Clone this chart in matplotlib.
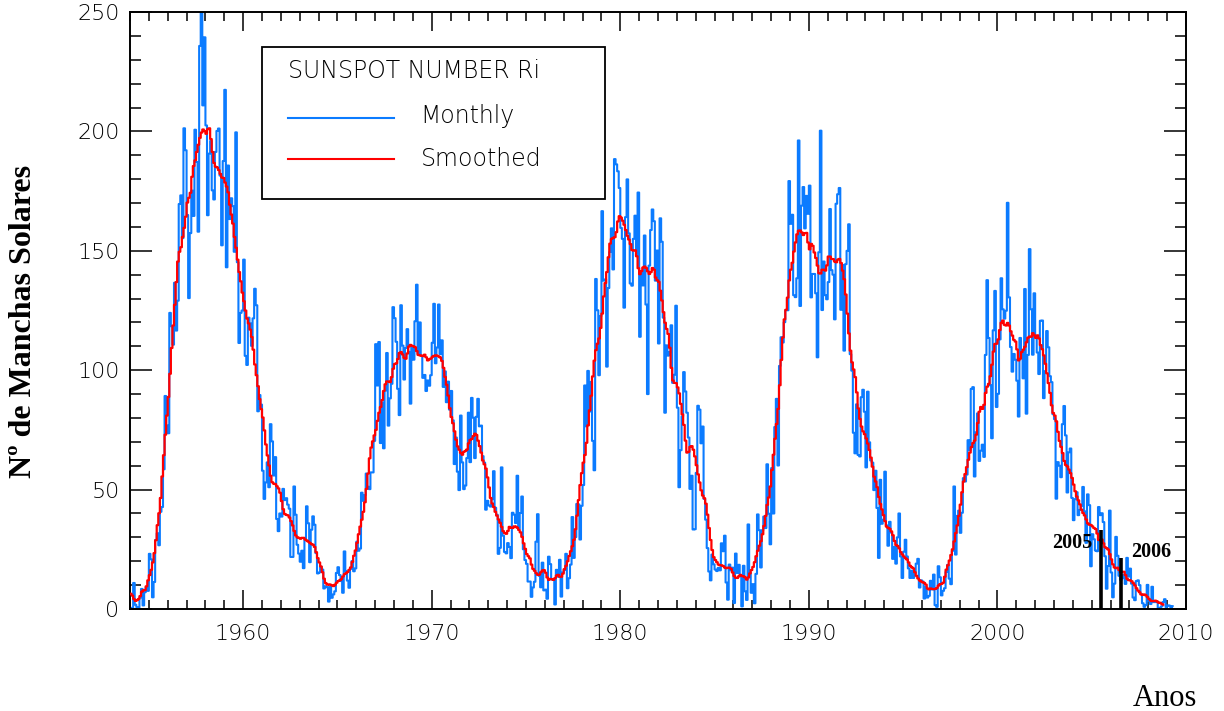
import numpy as np
import matplotlib
matplotlib.use("Agg")
import matplotlib.pyplot as plt
from matplotlib.patches import Rectangle
from matplotlib.ticker import FixedLocator, MultipleLocator

# Monthly mean sunspot number Ri, one row per year, starting January 1954
first_year = 1954
monthly_ri = [
    0.2, 0.5, 10.9, 1.8, 0.8, 0.2, 4.8, 8.4, 1.5, 7.0, 9.2, 7.6,                       # 1954
    23.1, 20.8, 4.9, 11.3, 28.9, 31.7, 26.7, 40.7, 42.7, 58.5, 89.2, 76.9,             # 1955
    73.6, 124.0, 118.4, 110.7, 136.6, 116.6, 129.1, 169.6, 173.2, 155.3, 201.3, 192.1, # 1956
    165.0, 130.2, 157.4, 175.2, 164.6, 200.7, 187.2, 158.0, 235.8, 253.8, 210.9, 239.4,# 1957
    202.5, 164.9, 190.7, 196.0, 175.3, 171.5, 191.4, 200.2, 201.2, 181.5, 152.3, 187.6,# 1958
    217.4, 143.1, 185.7, 163.3, 172.0, 168.7, 149.6, 199.6, 145.2, 111.4, 124.0, 125.0,# 1959
    146.3, 106.0, 102.2, 122.0, 119.6, 110.2, 121.7, 134.1, 127.2, 82.8, 89.6, 85.6,   # 1960
    57.9, 46.1, 53.0, 61.4, 51.0, 77.4, 70.2, 55.9, 63.6, 37.7, 32.6, 40.0,            # 1961
    38.7, 50.3, 45.6, 46.4, 43.7, 42.0, 21.8, 21.8, 51.3, 39.5, 26.9, 23.2,            # 1962
    19.8, 24.4, 17.1, 29.3, 43.0, 35.9, 19.6, 33.2, 38.8, 35.3, 23.4, 14.9,            # 1963
    15.3, 17.7, 16.5, 8.6, 9.5, 9.1, 3.1, 9.3, 4.7, 6.1, 7.4, 15.1,                    # 1964
    17.5, 14.2, 11.7, 6.8, 24.1, 15.9, 11.9, 8.9, 16.8, 20.1, 15.8, 17.0,              # 1965
    28.2, 24.4, 25.3, 48.7, 45.3, 47.7, 56.7, 51.2, 50.2, 57.2, 57.2, 70.4,            # 1966
    110.9, 93.6, 111.8, 69.5, 86.5, 67.3, 91.5, 107.2, 76.8, 88.2, 94.3, 126.4,        # 1967
    121.8, 111.9, 92.2, 81.2, 127.2, 110.3, 96.1, 109.3, 117.2, 107.7, 86.0, 109.8,    # 1968
    104.4, 120.5, 135.8, 106.8, 120.0, 106.0, 96.8, 98.0, 91.3, 95.7, 93.5, 97.9,      # 1969
    111.5, 127.8, 102.9, 109.5, 127.5, 106.8, 112.5, 93.0, 99.5, 86.6, 95.2, 83.5,     # 1970
    91.3, 79.0, 60.7, 71.8, 57.5, 49.8, 81.0, 61.4, 50.2, 51.7, 63.2, 82.2,            # 1971
    61.5, 88.4, 80.1, 63.2, 80.5, 88.0, 76.5, 76.8, 64.0, 61.3, 41.6, 45.3,            # 1972
    43.4, 42.9, 46.0, 57.7, 42.4, 39.5, 23.1, 25.6, 59.3, 30.7, 23.9, 23.3,            # 1973
    27.6, 26.0, 21.3, 40.3, 39.5, 36.0, 55.8, 33.6, 40.2, 47.1, 25.0, 20.5,            # 1974
    18.9, 11.5, 11.5, 5.1, 9.0, 11.4, 28.2, 39.7, 13.9, 9.1, 19.4, 7.8,                # 1975
    8.1, 4.3, 21.9, 18.8, 12.4, 12.2, 1.9, 16.4, 13.5, 20.6, 5.2, 15.3,                # 1976
    16.4, 23.1, 8.7, 12.9, 18.6, 38.5, 21.4, 30.1, 44.0, 43.8, 29.1, 43.2,             # 1977
    51.9, 93.6, 76.5, 99.7, 82.7, 95.1, 70.4, 58.1, 138.2, 125.1, 97.9, 122.7,         # 1978
    166.6, 137.5, 138.0, 101.5, 134.4, 149.5, 159.4, 142.2, 188.4, 186.2, 183.3, 176.3,# 1979
    159.6, 155.0, 126.2, 164.1, 179.9, 157.3, 136.3, 135.4, 155.0, 164.7, 147.9, 174.4,# 1980
    114.0, 141.3, 135.5, 156.4, 127.5, 90.0, 143.8, 158.7, 167.3, 162.4, 137.5, 150.1, # 1981
    111.2, 163.6, 153.8, 122.0, 82.2, 110.4, 106.1, 107.6, 118.8, 94.7, 98.1, 127.0,   # 1982
    84.3, 51.0, 66.5, 80.7, 99.2, 91.1, 82.2, 71.8, 50.3, 55.8, 33.3, 33.4,            # 1983
    57.0, 85.1, 83.5, 69.4, 76.4, 46.1, 37.4, 25.5, 15.7, 12.0, 22.8, 18.7,            # 1984
    16.5, 15.9, 17.2, 16.2, 27.5, 24.2, 30.7, 11.1, 3.9, 18.6, 16.2, 17.3,             # 1985
    2.5, 23.2, 15.1, 18.5, 13.7, 1.1, 18.1, 7.4, 3.8, 35.4, 15.2, 6.8,                 # 1986
    10.4, 2.4, 14.7, 39.6, 33.0, 17.4, 33.0, 38.7, 33.9, 60.6, 39.9, 27.1,             # 1987
    59.0, 40.0, 76.2, 88.0, 60.1, 101.8, 113.8, 111.6, 120.1, 125.1, 125.1, 179.2,     # 1988
    161.3, 165.1, 131.4, 130.6, 138.5, 196.2, 126.9, 168.9, 176.7, 159.4, 173.0, 165.5,# 1989
    177.3, 130.5, 140.3, 140.3, 132.2, 105.4, 149.4, 200.3, 125.2, 145.5, 131.4, 129.7,# 1990
    136.9, 167.5, 141.9, 140.0, 121.3, 169.7, 173.7, 176.3, 125.3, 144.1, 108.2, 144.4,# 1991
    150.0, 161.1, 106.7, 99.8, 73.8, 65.2, 85.7, 64.5, 63.9, 88.7, 91.8, 82.6,         # 1992
    59.3, 91.0, 69.8, 62.2, 61.3, 49.8, 57.9, 42.3, 21.4, 54.1, 35.7, 37.4,            # 1993
    57.5, 35.0, 26.5, 36.5, 32.0, 21.0, 26.0, 19.0, 30.0, 40.0, 22.0, 13.0,            # 1994
    24.0, 29.0, 22.0, 17.0, 13.0, 16.0, 13.0, 15.0, 19.0, 21.0, 9.0, 12.0,             # 1995
    11.5, 4.4, 9.2, 4.8, 5.5, 11.8, 8.2, 14.4, 1.6, 0.9, 17.9, 13.3,                   # 1996
    5.7, 7.6, 8.7, 15.5, 18.5, 12.7, 10.4, 24.4, 51.3, 22.8, 39.0, 41.2,               # 1997
    31.9, 40.3, 54.8, 53.4, 56.3, 70.7, 66.6, 92.2, 92.9, 55.5, 74.0, 81.9,            # 1998
    62.0, 66.3, 68.8, 63.7, 106.4, 137.7, 113.5, 93.7, 71.5, 116.7, 133.2, 84.6,       # 1999
    90.1, 112.9, 138.5, 125.5, 121.6, 124.9, 170.1, 130.5, 109.7, 99.4, 106.8, 104.4,  # 2000
    95.6, 80.6, 113.5, 107.7, 96.6, 134.0, 81.8, 106.4, 150.7, 125.5, 106.5, 132.2,    # 2001
    114.1, 107.4, 98.4, 120.7, 120.8, 88.3, 99.6, 116.4, 109.6, 97.5, 95.0, 81.6,      # 2002
    79.5, 46.2, 61.5, 60.0, 55.2, 77.4, 85.0, 72.7, 48.8, 65.6, 67.2, 46.5,            # 2003
    37.2, 46.0, 48.9, 39.3, 41.5, 43.2, 51.1, 40.9, 27.7, 48.0, 43.5, 17.9,            # 2004
    31.3, 29.2, 24.5, 24.2, 42.7, 39.3, 40.1, 36.4, 22.1, 8.5, 18.0, 41.2,             # 2005
    15.3, 4.9, 10.6, 30.2, 22.3, 13.9, 12.2, 12.9, 14.4, 10.5, 21.4, 13.6,             # 2006
    16.9, 10.6, 4.8, 3.7, 11.7, 12.0, 10.0, 6.2, 2.4, 0.9, 1.7, 10.1,                  # 2007
    3.4, 2.1, 9.3, 2.9, 2.9, 3.1, 0.5, 0.5, 1.1, 2.9, 4.1, 0.8,                        # 2008
    1.5, 1.4, 0.7, 1.2,                                                                # 2009
]

# 13-month smoothed sunspot number, starting January 1954
smoothed_ri = [
    6.4, 5.6, 4.2, 3.4, 3.7, 4.2, 5.4, 7.2, 7.8, 7.9, 9.5, 12.0,                       # 1954
    14.2, 16.4, 19.5, 23.4, 28.8, 35.1, 40.1, 46.5, 55.5, 64.4, 73.0, 81.0,            # 1955
    88.8, 98.5, 109.3, 118.7, 127.4, 136.9, 145.5, 149.6, 151.5, 155.8, 159.6, 164.3,  # 1956
    170.2, 172.2, 174.3, 181.0, 185.5, 187.9, 191.4, 194.4, 197.3, 199.5, 200.8, 200.1,# 1957
    199.0, 200.9, 201.3, 196.8, 191.4, 186.8, 185.2, 184.9, 183.8, 182.2, 180.7, 180.5,# 1958
    178.6, 176.9, 174.5, 169.3, 165.2, 161.4, 155.8, 151.3, 146.3, 141.1, 137.2, 132.5,# 1959
    128.9, 125.0, 121.6, 119.6, 117.0, 113.9, 108.6, 102.4, 97.9, 93.3, 87.9, 83.7,    # 1960
    80.2, 74.8, 68.9, 64.3, 60.1, 55.8, 53.1, 52.5, 52.3, 51.4, 50.5, 48.7,            # 1961
    45.2, 41.8, 39.8, 39.4, 39.2, 38.3, 36.8, 35.0, 32.7, 30.8, 30.0, 29.8,            # 1962
    29.4, 29.8, 29.8, 29.1, 28.7, 28.2, 27.7, 27.2, 26.9, 26.0, 23.8, 21.3,            # 1963
    19.5, 17.8, 15.4, 12.7, 10.9, 10.2, 10.3, 10.2, 9.9, 9.6, 10.2, 11.0,              # 1964
    11.7, 12.0, 12.5, 13.6, 14.6, 15.0, 15.5, 16.4, 17.4, 19.7, 22.3, 24.5,            # 1965
    27.7, 31.3, 34.5, 37.4, 40.7, 44.7, 50.3, 56.7, 63.1, 67.6, 70.2, 72.7,            # 1966
    75.0, 78.8, 82.2, 84.6, 87.5, 91.3, 94.1, 95.3, 95.3, 95.0, 97.1, 100.6,           # 1967
    102.6, 102.9, 104.7, 107.2, 107.6, 106.6, 105.2, 104.8, 107.0, 109.9, 110.6, 110.2,# 1968
    110.0, 109.6, 108.0, 106.4, 106.2, 106.1, 105.9, 106.5, 105.4, 104.1, 104.6, 104.9,# 1969
    105.6, 106.0, 106.2, 106.1, 105.8, 105.3, 103.9, 101.0, 97.2, 93.9, 89.4, 84.1,    # 1970
    80.4, 77.8, 74.4, 70.9, 68.1, 66.7, 65.4, 64.6, 65.8, 66.2, 66.8, 69.4,            # 1971
    70.8, 71.2, 72.4, 73.4, 72.9, 70.5, 68.2, 65.5, 62.2, 60.6, 58.8, 55.1,            # 1972
    50.9, 46.5, 44.2, 42.7, 40.7, 39.1, 37.5, 36.1, 34.4, 32.6, 31.8, 31.5,            # 1973
    32.7, 34.4, 34.0, 33.9, 34.6, 34.5, 34.0, 33.1, 32.1, 30.2, 27.5, 25.2,            # 1974
    23.0, 22.1, 21.2, 18.6, 16.8, 16.0, 15.0, 14.3, 14.4, 15.4, 16.1, 16.3,            # 1975
    15.2, 13.2, 12.2, 12.6, 12.5, 12.2, 12.9, 14.0, 14.3, 13.5, 13.5, 14.8,            # 1976
    16.7, 18.1, 20.0, 22.2, 24.2, 26.3, 29.0, 33.4, 39.1, 45.6, 51.9, 56.9,            # 1977
    61.3, 64.5, 69.6, 76.9, 83.2, 89.3, 97.4, 104.0, 108.4, 111.1, 113.3, 117.7,       # 1978
    123.7, 130.9, 136.5, 141.1, 147.3, 153.0, 155.0, 155.4, 155.7, 157.8, 162.3, 164.5,# 1979
    163.9, 162.6, 160.9, 158.7, 156.3, 154.7, 152.8, 150.3, 150.1, 150.2, 147.7, 142.7,# 1980
    140.2, 141.5, 143.0, 143.4, 142.8, 141.4, 140.3, 141.1, 142.8, 142.1, 138.8, 137.7,# 1981
    137.0, 133.3, 129.2, 124.3, 119.9, 117.3, 115.2, 109.4, 101.0, 95.7, 94.7, 94.6,   # 1982
    92.8, 90.3, 85.9, 81.5, 77.1, 70.5, 65.5, 65.8, 67.9, 68.2, 66.7, 63.9,            # 1983
    60.2, 56.4, 53.0, 49.7, 47.5, 46.4, 44.1, 39.5, 33.9, 28.9, 24.7, 21.7,            # 1984
    20.5, 19.6, 18.6, 18.3, 18.3, 18.0, 17.4, 17.1, 17.3, 17.3, 16.8, 15.3,            # 1985
    13.8, 13.1, 13.0, 13.7, 14.3, 13.8, 13.7, 13.2, 12.3, 13.2, 14.9, 16.3,            # 1986
    17.6, 19.6, 22.1, 24.4, 26.5, 28.4, 31.3, 34.8, 39.0, 43.6, 46.7, 51.3,            # 1987
    58.2, 64.6, 71.3, 77.5, 83.8, 93.7, 104.3, 113.7, 121.3, 125.3, 130.4, 137.6,      # 1988
    142.1, 145.0, 149.7, 153.5, 156.9, 158.4, 158.5, 157.7, 156.6, 157.4, 157.5, 153.5,# 1989
    150.6, 152.9, 152.1, 149.3, 147.0, 143.8, 140.6, 140.5, 142.1, 142.1, 141.7, 143.9,# 1990
    147.6, 147.6, 146.6, 146.5, 145.5, 145.2, 146.3, 146.6, 144.9, 141.7, 138.1, 131.7,# 1991
    123.7, 115.4, 108.2, 103.3, 100.3, 97.1, 90.7, 84.0, 79.6, 76.4, 74.4, 73.2,       # 1992
    71.4, 69.3, 66.6, 63.4, 59.6, 55.4, 53.4, 51.0, 46.9, 44.0, 41.7, 39.3,            # 1993
    36.8, 34.5, 33.9, 33.6, 32.5, 30.9, 28.5, 26.8, 26.4, 25.4, 23.8, 22.8,            # 1994
    22.0, 21.3, 20.7, 19.5, 18.1, 17.5, 17.0, 15.4, 13.9, 12.8, 12.0, 11.5,            # 1995
    11.2, 10.9, 10.2, 8.6, 8.2, 8.6, 8.4, 8.3, 8.4, 8.8, 9.8, 10.4,                    # 1996
    10.5, 11.0, 13.5, 16.5, 18.3, 20.3, 22.6, 25.0, 28.3, 31.8, 35.0, 39.0,            # 1997
    43.7, 48.9, 53.4, 56.5, 59.4, 62.5, 65.5, 67.8, 69.5, 70.5, 73.0, 77.9,            # 1998
    82.6, 84.6, 83.8, 85.5, 90.5, 93.1, 94.3, 97.5, 102.3, 107.8, 111.0, 111.1,        # 1999
    112.9, 116.8, 119.9, 120.8, 119.0, 118.7, 119.8, 118.7, 116.3, 114.5, 112.7, 112.0,# 2000
    108.7, 104.1, 104.8, 107.6, 108.6, 109.8, 111.7, 113.6, 114.1, 114.0, 115.5, 114.6,# 2001
    113.5, 114.6, 113.3, 110.5, 108.8, 106.2, 102.7, 98.7, 94.6, 90.5, 85.3, 82.1,     # 2002
    81.0, 78.6, 74.2, 70.4, 67.9, 65.3, 62.0, 60.3, 59.7, 58.4, 56.9, 54.9,            # 2003
    52.1, 49.3, 47.1, 45.5, 43.8, 41.6, 40.2, 39.2, 37.5, 35.9, 35.3, 35.2,            # 2004
    34.6, 33.9, 33.5, 31.6, 28.9, 28.8, 29.1, 27.5, 25.9, 25.5, 24.9, 23.0,            # 2005
    20.8, 18.7, 17.4, 17.1, 17.3, 16.3, 15.3, 15.6, 15.6, 14.2, 12.7, 12.1,            # 2006
    12.0, 11.6, 10.8, 9.9, 8.7, 7.7, 7.0, 6.1, 5.9, 6.1, 5.7, 5.0,                     # 2007
    4.2, 3.6, 3.3, 3.3, 3.5, 3.2, 2.7, 2.6, 2.2, 1.8,                                  # 2008
]

# Year markers drawn as black bars near the end of cycle 23
marker_years = [2005.5, 2006.57]
marker_heights = [33.0, 21.3]
marker_labels = ["2005", "2006"]

x_ticks = [1960, 1970, 1980, 1990, 2000, 2010]
y_ticks = [0, 50, 100, 150, 200, 250]

legend_title = "SUNSPOT NUMBER Ri"
series_names = ["Monthly", "Smoothed"]

BLUE = "#0b7bff"
RED = "#ff0000"
TICK_FONT = dict(family="DejaVu Sans", size=16, weight="light")
LEGEND_FONT = dict(family="DejaVu Sans", size=17, weight="light")

t_monthly = first_year + (np.arange(len(monthly_ri)) + 0.5) / 12.0
t_smooth = first_year + (np.arange(len(smoothed_ri)) + 0.5) / 12.0

fig = plt.figure(figsize=(12.24, 7.11), dpi=100)
ax = fig.add_axes([130 / 1224, 1 - 609 / 711, 1056 / 1224, 597 / 711])

ax.plot(t_monthly, monthly_ri, drawstyle="steps-mid", color=BLUE, lw=1.5, zorder=2)
ax.plot(t_smooth, smoothed_ri, drawstyle="steps-mid", color=RED, lw=1.6, zorder=3)

ax.set_xlim(1954, 2010)
ax.set_ylim(0, 250)

ax.xaxis.set_major_locator(FixedLocator(x_ticks))
ax.xaxis.set_minor_locator(MultipleLocator(1))
ax.yaxis.set_major_locator(FixedLocator(y_ticks))
ax.yaxis.set_minor_locator(MultipleLocator(10))

ax.tick_params(which="both", direction="in", top=True, right=True,
               width=1.1, color="black")
ax.tick_params(axis="x", which="major", length=13.5, pad=10.5)
ax.tick_params(axis="x", which="minor", length=6.8)
ax.tick_params(axis="y", which="major", length=15.8, pad=7.5)
ax.tick_params(axis="y", which="minor", length=7.9)
for lab in ax.get_xticklabels() + ax.get_yticklabels():
    lab.set_fontfamily(TICK_FONT["family"])
    lab.set_fontsize(TICK_FONT["size"])
    lab.set_fontweight(TICK_FONT["weight"])
    lab.set_color("black")

for sp in ax.spines.values():
    sp.set_linewidth(1.4)
    sp.set_color("black")

# Legend box drawn by hand in axes coordinates
box = Rectangle((0.1247, 0.6868), 0.4498 - 0.1247, 0.9419 - 0.6868,
                transform=ax.transAxes, fill=False, lw=1.3, ec="black", zorder=4)
ax.add_patch(box)
ax.text(0.1496, 0.9012, legend_title, transform=ax.transAxes, ha="left",
        va="center", color="black", **LEGEND_FONT, zorder=5)
for yl, yt, col, name in zip([0.823, 0.7538], [0.8258, 0.7538], [BLUE, RED],
                             series_names):
    ax.plot([0.1496, 0.25], [yl, yl], transform=ax.transAxes, color=col,
            lw=1.5, zorder=5)
    ax.text(0.2753, yt, name, transform=ax.transAxes, ha="left",
            va="center", color="black", **LEGEND_FONT, zorder=5)

# Year markers
ax.vlines(marker_years, 0, marker_heights, colors="black", lw=2.6, zorder=6)
ax.text(marker_years[0] - 0.47, 27.6, marker_labels[0], ha="right", va="center",
        family="Liberation Serif", weight="bold", size=14.5, zorder=6)
ax.text(marker_years[1] + 0.53, 23.9, marker_labels[1], ha="left", va="center",
        family="Liberation Serif", weight="bold", size=14.5, zorder=6)

fig.text(24 / 1224, 1 - 321 / 711, "Nº de Manchas Solares", rotation=90,
         ha="center", va="center", family="Liberation Serif", weight="bold",
         size=23)
fig.text(1165 / 1224, 1 - 706 / 711, "Anos", ha="center", va="baseline",
         family="Liberation Serif", size=22)

fig.savefig("out.png", dpi=100)
